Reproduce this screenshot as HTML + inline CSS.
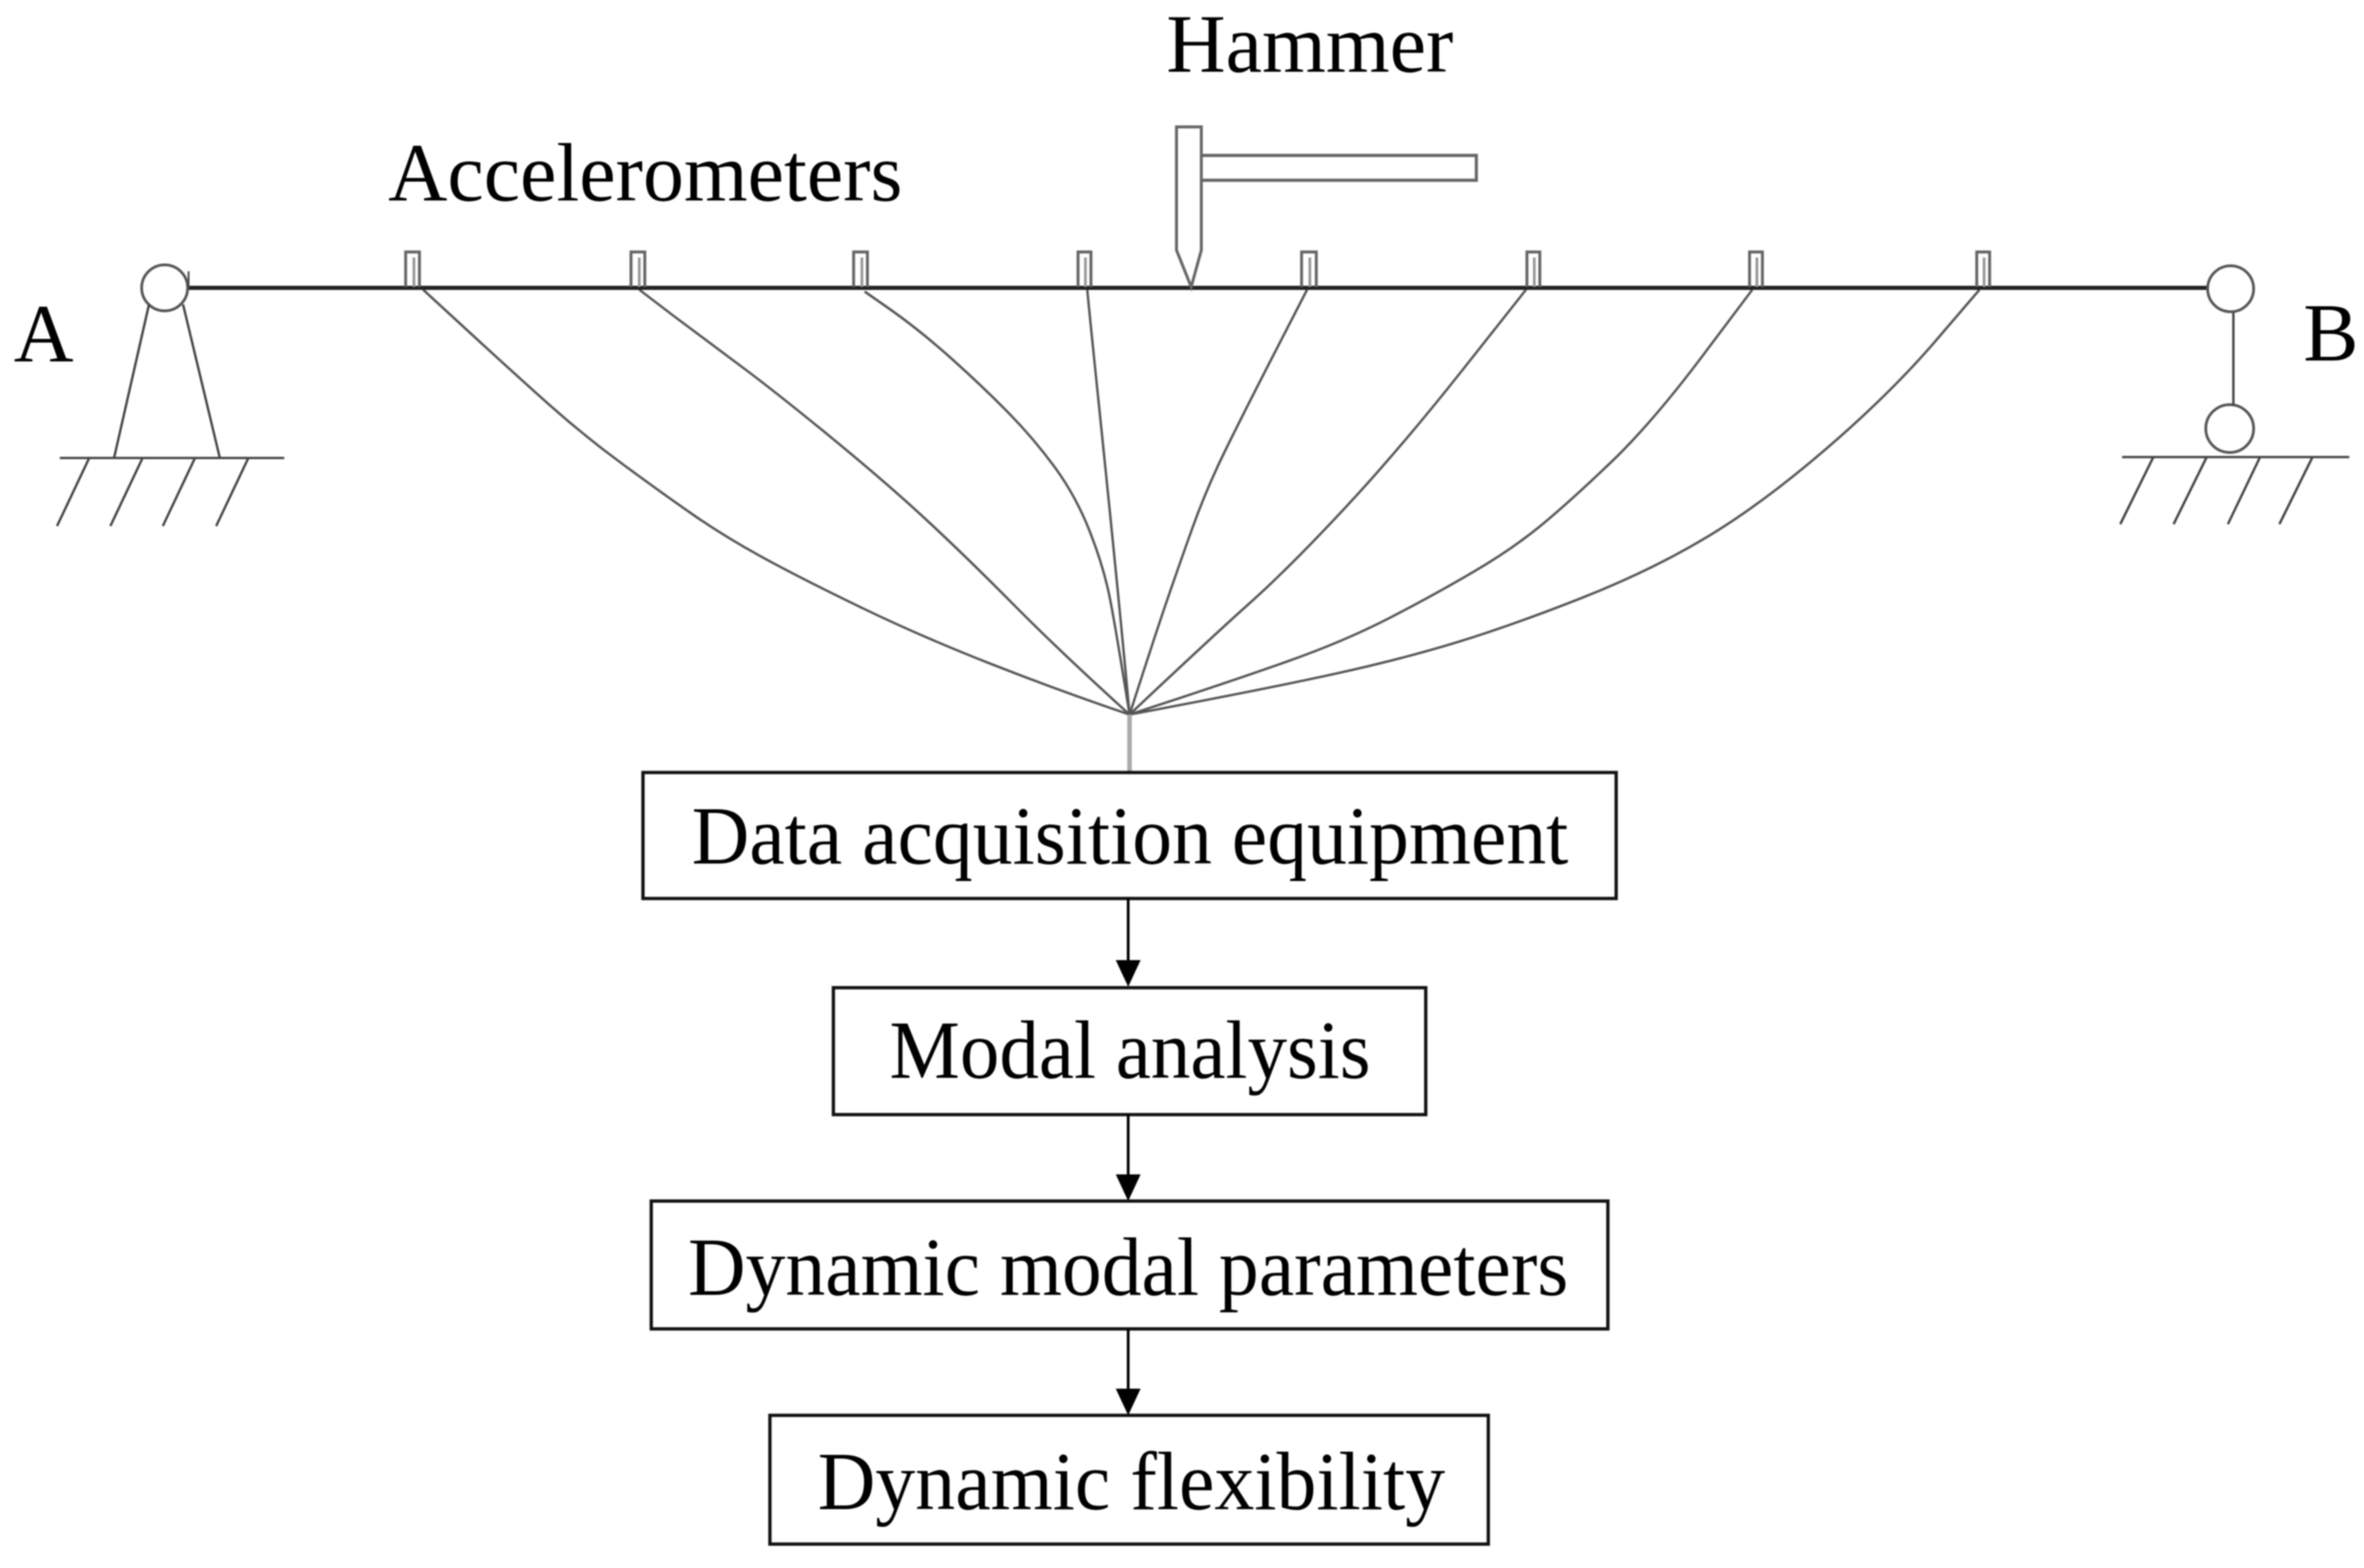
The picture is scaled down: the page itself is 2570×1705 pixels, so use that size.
<!DOCTYPE html>
<html><head><meta charset="utf-8"><style>
html,body{margin:0;padding:0;background:#fff;width:2570px;height:1705px;overflow:hidden}
svg{display:block;filter:blur(.8px)}
text{font-family:"Liberation Serif",serif;font-size:90px;fill:#000}
</style></head><body>
<svg width="2570" height="1705" viewBox="0 0 2570 1705" xmlns="http://www.w3.org/2000/svg">
<rect width="2570" height="1705" fill="#fff"/>
<g fill="none" stroke="#555" stroke-width="2.600" stroke-linejoin="round">
<path d="M460 315L510 361Q560 407 597 440Q634 473 676 504Q718 535 752.500 559Q787 583 828 605.500Q869 628 935 660Q1001 692 1077.500 722Q1154 752 1228 777"/>
<path d="M695 315L733 344Q772 373 810 401.500Q848 430 907 478.500Q966 527 1009 567Q1052 607 1103 658.500Q1154 710 1228 777"/>
<path d="M940 317L970 338Q1001 360 1034.500 390Q1068 420 1096 448.500Q1124 477 1147 508.500Q1170 540 1185 578.500Q1200 617 1206.500 650Q1213 683 1228 777"/>
<path d="M1182 315C1190 400 1210 580 1228 777"/>
<path d="M1421 315L1385.500 384Q1350 453 1330.500 493Q1311 533 1296 575Q1281 617 1268.500 653.500Q1256 690 1228 777"/>
<path d="M1659 315L1591 401Q1523 487 1462.500 552Q1402 617 1359.500 655Q1317 693 1228 777"/>
<path d="M1905 315L1850.500 387.500Q1796 460 1750.500 503.500Q1705 547 1674.500 572Q1644 597 1601.500 622Q1559 647 1510.500 672Q1462 697 1401.500 718.500Q1341 740 1228 777"/>
<path d="M2152 315L2104 371Q2056 427 1986.500 487Q1917 547 1856.500 583.500Q1796 620 1720 650Q1644 680 1583.500 698.500Q1523 717 1447.500 733.500Q1372 750 1228 777"/>
</g>
<line x1="1228" y1="777" x2="1228" y2="840" stroke="#aaa" stroke-width="5"/>
<line x1="205" y1="313" x2="2401" y2="313" stroke="#222" stroke-width="4.500"/>
<g fill="#fff" stroke="#555" stroke-width="3">
<circle cx="179" cy="313" r="25"/>
<circle cx="2425" cy="314" r="25"/>
<circle cx="2424" cy="466" r="26"/>
</g>
<path d="M205 295V313" stroke="#444" stroke-width="2" fill="none"/>
<g fill="none" stroke="#444" stroke-width="2.600">
<path d="M162 331L124 498M199 331L239 498"/>
<path d="M65 498H309M97 498L62 572M155 498L120 572M212 498L177 572M270 498L235 572"/>
<path d="M2428 340V441"/>
<path d="M2307 497H2554M2341 497L2305 570M2399 497L2363 570M2457 497L2422 570M2514 497L2478 570"/>
</g>
<g fill="none" stroke="#666" stroke-width="3.200">
<path d="M441 312V274H456V312"/>
<path d="M686 312V274H701V312"/>
<path d="M928 312V274H943V312"/>
<path d="M1172 312V274H1186V312"/>
<path d="M1415 312V274H1431V312"/>
<path d="M1660 312V274H1674V312"/>
<path d="M1902 312V274H1916V312"/>
<path d="M2149 312V274H2163V312"/>
<path d="M1279 272V138H1306V272L1295 312Z" fill="#fff"/>
<path d="M1306 169H1605V196H1306" stroke-width="3.400"/>
</g>
<g fill="none" stroke="#999" stroke-width="3">
<path d="M450 312V280M695 312V280M937 312V280M1180 312V280M1424 312V280M1668 312V280M1910 312V280M2157 312V280"/>
</g>
<text x="1268" y="78" textLength="312" lengthAdjust="spacingAndGlyphs">Hammer</text>
<text x="422" y="218" textLength="559" lengthAdjust="spacingAndGlyphs">Accelerometers</text>
<text x="15" y="393">A</text>
<text x="2504" y="392">B</text>
<g fill="#fff" stroke="#111" stroke-width="3.600">
<rect x="699" y="840" width="1058" height="137"/>
<rect x="906" y="1074" width="644" height="138"/>
<rect x="708" y="1306" width="1040" height="139"/>
<rect x="837" y="1539" width="781" height="140"/>
</g>
<text x="752" y="939" textLength="953" lengthAdjust="spacingAndGlyphs">Data acquisition equipment</text>
<text x="967" y="1172" textLength="523" lengthAdjust="spacingAndGlyphs">Modal analysis</text>
<text x="748" y="1408" textLength="957" lengthAdjust="spacingAndGlyphs">Dynamic modal parameters</text>
<text x="889" y="1641" textLength="682" lengthAdjust="spacingAndGlyphs">Dynamic flexibility</text>
<g stroke="#000" stroke-width="3">
<line x1="1226.500" y1="977" x2="1226.500" y2="1050"/>
<line x1="1226.500" y1="1212" x2="1226.500" y2="1284"/>
<line x1="1226.500" y1="1445" x2="1226.500" y2="1516"/>
</g>
<g fill="#000">
<path d="M1213 1044H1240L1226.500 1073Z"/>
<path d="M1213 1277H1240L1226.500 1306Z"/>
<path d="M1213 1510H1240L1226.500 1539Z"/>
</g>
</svg>
</body></html>
